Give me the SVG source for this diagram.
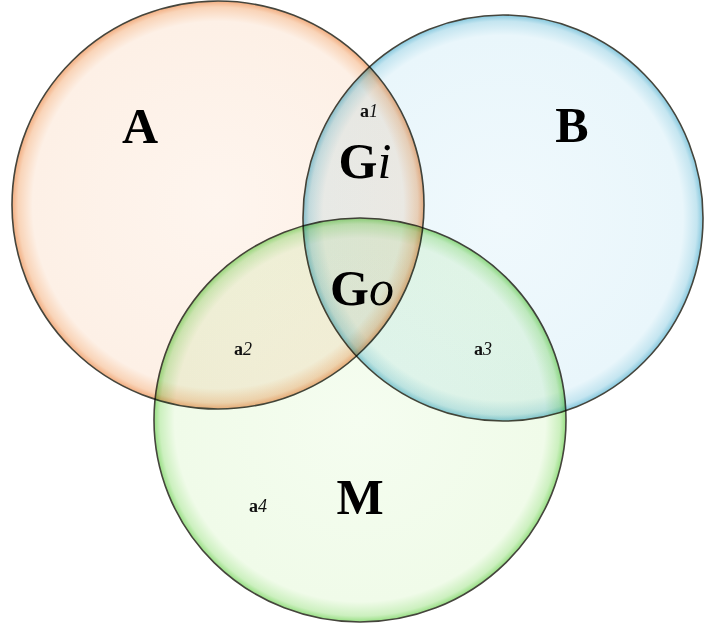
<svg xmlns="http://www.w3.org/2000/svg" width="704" height="624" viewBox="0 0 704 624">
  <style>
    .ring { stroke: #45453c; stroke-width: 1.6; mix-blend-mode: multiply; }
    .big { font-family: "Liberation Serif", "Times New Roman", serif; font-weight: bold; font-size: 50px; fill: #000; }
    .small { font-family: "Liberation Serif", "Times New Roman", serif; font-weight: bold; font-size: 18px; fill: #111; }
    .it { font-style: italic; font-weight: normal; }
  </style>
  <defs>
    <radialGradient id="gA" cx="0.5" cy="0.5" r="0.5">
      <stop offset="0" stop-color="#fef5ee"/>
      <stop offset="0.9" stop-color="#fdf0e6"/>
      <stop offset="0.97" stop-color="#f9d4b8"/>
      <stop offset="1" stop-color="#f2ad80"/>
    </radialGradient>
    <radialGradient id="gB" cx="0.5" cy="0.5" r="0.5">
      <stop offset="0" stop-color="#f0f9fd"/>
      <stop offset="0.9" stop-color="#e9f6fb"/>
      <stop offset="0.97" stop-color="#c4e5f0"/>
      <stop offset="1" stop-color="#86c8de"/>
    </radialGradient>
    <radialGradient id="gM" cx="0.5" cy="0.5" r="0.5">
      <stop offset="0" stop-color="#f5fdf0"/>
      <stop offset="0.9" stop-color="#f0fbe9"/>
      <stop offset="0.97" stop-color="#ccf0bf"/>
      <stop offset="1" stop-color="#96de82"/>
    </radialGradient>
  </defs>
  <rect width="704" height="624" fill="#ffffff"/>
  <g id="setA">
    <ellipse class="ring" cx="218" cy="205" rx="206" ry="204" fill="url(#gA)"/>
  </g>
  <g id="setB">
    <ellipse class="ring" cx="503" cy="218" rx="200" ry="203" fill="url(#gB)"/>
  </g>
  <g id="setM">
    <ellipse class="ring" cx="360" cy="420" rx="206" ry="202" fill="url(#gM)"/>
  </g>
  <g id="labels">
    <text class="big" x="140" y="143" text-anchor="middle">A</text>
    <text class="big" x="572" y="142" text-anchor="middle">B</text>
    <text class="big" x="365" y="178" text-anchor="middle">G<tspan class="it">i</tspan></text>
    <text class="big" x="362" y="305" text-anchor="middle">G<tspan class="it">o</tspan></text>
    <text class="big" x="360" y="514" text-anchor="middle">M</text>
    <text class="small" x="369" y="117" text-anchor="middle">a<tspan class="it">1</tspan></text>
    <text class="small" x="243" y="355" text-anchor="middle">a<tspan class="it">2</tspan></text>
    <text class="small" x="483" y="355" text-anchor="middle">a<tspan class="it">3</tspan></text>
    <text class="small" x="258" y="512" text-anchor="middle">a<tspan class="it">4</tspan></text>
  </g>
</svg>
